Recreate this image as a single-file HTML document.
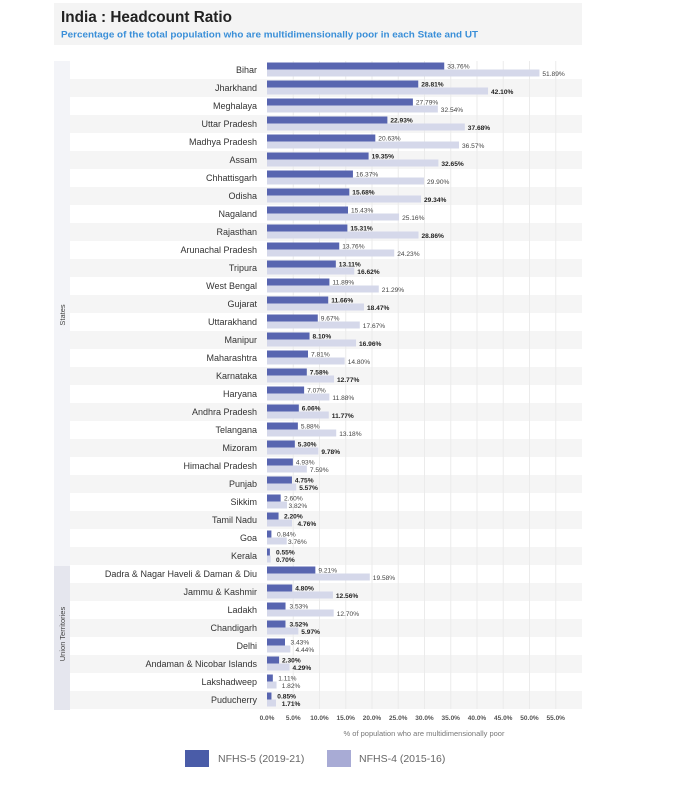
<!DOCTYPE html>
<html><head><meta charset="utf-8">
<style>
html,body{margin:0;padding:0;background:#fff;}
svg{display:block;font-family:"Liberation Sans",sans-serif;}
.rl{font-size:9px;fill:#333;text-anchor:end;}
.v{font-size:6.6px;fill:#444;}
.vb{font-size:6.6px;fill:#222;font-weight:bold;}
.tk{font-size:6.5px;fill:#555;text-anchor:middle;font-weight:bold;}
.d{fill:#5865b0;}
.l{fill:#d5d8ea;}
</style></head><body>
<svg width="673" height="797" viewBox="0 0 673 797" xmlns="http://www.w3.org/2000/svg">
<rect x="0" y="0" width="673" height="797" fill="#fff"/>
<!-- header -->
<rect x="54" y="3" width="528" height="42" fill="#f4f4f4"/>
<text x="61" y="22" font-size="15.3" font-weight="bold" fill="#222" textLength="171" lengthAdjust="spacingAndGlyphs">India : Headcount Ratio</text>
<text x="61" y="37.3" font-size="9" font-weight="bold" fill="#3a8fd8" textLength="417" lengthAdjust="spacingAndGlyphs">Percentage of the total population who are multidimensionally poor in each State and UT</text>

<!-- left strips -->
<rect x="54" y="61" width="16" height="505" fill="#f3f4f8"/>
<rect x="54" y="566" width="16" height="144" fill="#e5e6ee"/>
<text transform="translate(65,315) rotate(-90)" font-size="7.5" fill="#444" text-anchor="middle">States</text>
<text transform="translate(65,634) rotate(-90)" font-size="7.5" fill="#444" text-anchor="middle">Union Territories</text>

<!-- bands (odd rows) -->
<g fill="#f5f5f5">
<rect x="70" y="79" width="512" height="18"/>
<rect x="70" y="115" width="512" height="18"/>
<rect x="70" y="151" width="512" height="18"/>
<rect x="70" y="187" width="512" height="18"/>
<rect x="70" y="223" width="512" height="18"/>
<rect x="70" y="259" width="512" height="18"/>
<rect x="70" y="295" width="512" height="18"/>
<rect x="70" y="331" width="512" height="18"/>
<rect x="70" y="367" width="512" height="18"/>
<rect x="70" y="403" width="512" height="18"/>
<rect x="70" y="439" width="512" height="18"/>
<rect x="70" y="475" width="512" height="18"/>
<rect x="70" y="511" width="512" height="18"/>
<rect x="70" y="547" width="512" height="18"/>
<rect x="70" y="583" width="512" height="18"/>
<rect x="70" y="619" width="512" height="18"/>
<rect x="70" y="655" width="512" height="18"/>
<rect x="70" y="691" width="512" height="18"/>
</g>

<!-- gridlines -->
<g stroke="#ebebeb" stroke-width="1">
<line x1="293.25" y1="61" x2="293.25" y2="709"/>
<line x1="319.5" y1="61" x2="319.5" y2="709"/>
<line x1="345.75" y1="61" x2="345.75" y2="709"/>
<line x1="372" y1="61" x2="372" y2="709"/>
<line x1="398.25" y1="61" x2="398.25" y2="709"/>
<line x1="424.5" y1="61" x2="424.5" y2="709"/>
<line x1="450.75" y1="61" x2="450.75" y2="709"/>
<line x1="477" y1="61" x2="477" y2="709"/>
<line x1="503.25" y1="61" x2="503.25" y2="709"/>
<line x1="529.5" y1="61" x2="529.5" y2="709"/>
<line x1="555.75" y1="61" x2="555.75" y2="709"/>
</g>

<!-- rows -->
<g transform="translate(0,61)"><text class="rl" x="257" y="12">Bihar</text><rect class="d" x="267" y="1.5" width="177.24" height="7"/><rect class="l" x="267" y="8.5" width="272.42" height="7"/><text class="v" x="447.2" y="7.6">33.76%</text><text class="v" x="542.4" y="14.8">51.89%</text></g>
<g transform="translate(0,79)"><text class="rl" x="257" y="12">Jharkhand</text><rect class="d" x="267" y="1.5" width="151.25" height="7"/><rect class="l" x="267" y="8.5" width="221.03" height="7"/><text class="vb" x="421.3" y="7.6">28.81%</text><text class="vb" x="491" y="14.8">42.10%</text></g>
<g transform="translate(0,97)"><text class="rl" x="257" y="12">Meghalaya</text><rect class="d" x="267" y="1.5" width="145.9" height="7"/><rect class="l" x="267" y="8.5" width="170.84" height="7"/><text class="v" x="415.9" y="7.6">27.79%</text><text class="v" x="440.8" y="14.8">32.54%</text></g>
<g transform="translate(0,115)"><text class="rl" x="257" y="12">Uttar Pradesh</text><rect class="d" x="267" y="1.5" width="120.38" height="7"/><rect class="l" x="267" y="8.5" width="197.82" height="7"/><text class="vb" x="390.4" y="7.6">22.93%</text><text class="vb" x="467.8" y="14.8">37.68%</text></g>
<g transform="translate(0,133)"><text class="rl" x="257" y="12">Madhya Pradesh</text><rect class="d" x="267" y="1.5" width="108.31" height="7"/><rect class="l" x="267" y="8.5" width="191.99" height="7"/><text class="v" x="378.3" y="7.6">20.63%</text><text class="v" x="462" y="14.8">36.57%</text></g>
<g transform="translate(0,151)"><text class="rl" x="257" y="12">Assam</text><rect class="d" x="267" y="1.5" width="101.59" height="7"/><rect class="l" x="267" y="8.5" width="171.41" height="7"/><text class="vb" x="371.6" y="7.6">19.35%</text><text class="vb" x="441.4" y="14.8">32.65%</text></g>
<g transform="translate(0,169)"><text class="rl" x="257" y="12">Chhattisgarh</text><rect class="d" x="267" y="1.5" width="85.94" height="7"/><rect class="l" x="267" y="8.5" width="156.98" height="7"/><text class="v" x="355.9" y="7.6">16.37%</text><text class="v" x="427" y="14.8">29.90%</text></g>
<g transform="translate(0,187)"><text class="rl" x="257" y="12">Odisha</text><rect class="d" x="267" y="1.5" width="82.32" height="7"/><rect class="l" x="267" y="8.5" width="154.04" height="7"/><text class="vb" x="352.3" y="7.6">15.68%</text><text class="vb" x="424" y="14.8">29.34%</text></g>
<g transform="translate(0,205)"><text class="rl" x="257" y="12">Nagaland</text><rect class="d" x="267" y="1.5" width="81.01" height="7"/><rect class="l" x="267" y="8.5" width="132.09" height="7"/><text class="v" x="351" y="7.6">15.43%</text><text class="v" x="402.1" y="14.8">25.16%</text></g>
<g transform="translate(0,223)"><text class="rl" x="257" y="12">Rajasthan</text><rect class="d" x="267" y="1.5" width="80.38" height="7"/><rect class="l" x="267" y="8.5" width="151.52" height="7"/><text class="vb" x="350.4" y="7.6">15.31%</text><text class="vb" x="421.5" y="14.8">28.86%</text></g>
<g transform="translate(0,241)"><text class="rl" x="257" y="12">Arunachal Pradesh</text><rect class="d" x="267" y="1.5" width="72.24" height="7"/><rect class="l" x="267" y="8.5" width="127.21" height="7"/><text class="v" x="342.2" y="7.6">13.76%</text><text class="v" x="397.2" y="14.8">24.23%</text></g>
<g transform="translate(0,259)"><text class="rl" x="257" y="12">Tripura</text><rect class="d" x="267" y="1.5" width="68.83" height="7"/><rect class="l" x="267" y="8.5" width="87.26" height="7"/><text class="vb" x="338.8" y="7.6">13.11%</text><text class="vb" x="357.3" y="14.8">16.62%</text></g>
<g transform="translate(0,277)"><text class="rl" x="257" y="12">West Bengal</text><rect class="d" x="267" y="1.5" width="62.42" height="7"/><rect class="l" x="267" y="8.5" width="111.77" height="7"/><text class="v" x="332.4" y="7.6">11.89%</text><text class="v" x="381.8" y="14.8">21.29%</text></g>
<g transform="translate(0,295)"><text class="rl" x="257" y="12">Gujarat</text><rect class="d" x="267" y="1.5" width="61.22" height="7"/><rect class="l" x="267" y="8.5" width="96.97" height="7"/><text class="vb" x="331.2" y="7.6">11.66%</text><text class="vb" x="367" y="14.8">18.47%</text></g>
<g transform="translate(0,313)"><text class="rl" x="257" y="12">Uttarakhand</text><rect class="d" x="267" y="1.5" width="50.77" height="7"/><rect class="l" x="267" y="8.5" width="92.77" height="7"/><text class="v" x="320.8" y="7.6">9.67%</text><text class="v" x="362.8" y="14.8">17.67%</text></g>
<g transform="translate(0,331)"><text class="rl" x="257" y="12">Manipur</text><rect class="d" x="267" y="1.5" width="42.53" height="7"/><rect class="l" x="267" y="8.5" width="89.04" height="7"/><text class="vb" x="312.5" y="7.6">8.10%</text><text class="vb" x="359" y="14.8">16.96%</text></g>
<g transform="translate(0,349)"><text class="rl" x="257" y="12">Maharashtra</text><rect class="d" x="267" y="1.5" width="41" height="7"/><rect class="l" x="267" y="8.5" width="77.7" height="7"/><text class="v" x="311" y="7.6">7.81%</text><text class="v" x="347.7" y="14.8">14.80%</text></g>
<g transform="translate(0,367)"><text class="rl" x="257" y="12">Karnataka</text><rect class="d" x="267" y="1.5" width="39.8" height="7"/><rect class="l" x="267" y="8.5" width="67.04" height="7"/><text class="vb" x="309.8" y="7.6">7.58%</text><text class="vb" x="337" y="14.8">12.77%</text></g>
<g transform="translate(0,385)"><text class="rl" x="257" y="12">Haryana</text><rect class="d" x="267" y="1.5" width="37.12" height="7"/><rect class="l" x="267" y="8.5" width="62.37" height="7"/><text class="v" x="307.1" y="7.6">7.07%</text><text class="v" x="332.4" y="14.8">11.88%</text></g>
<g transform="translate(0,403)"><text class="rl" x="257" y="12">Andhra Pradesh</text><rect class="d" x="267" y="1.5" width="31.82" height="7"/><rect class="l" x="267" y="8.5" width="61.79" height="7"/><text class="vb" x="301.8" y="7.6">6.06%</text><text class="vb" x="331.8" y="14.8">11.77%</text></g>
<g transform="translate(0,421)"><text class="rl" x="257" y="12">Telangana</text><rect class="d" x="267" y="1.5" width="30.87" height="7"/><rect class="l" x="267" y="8.5" width="69.2" height="7"/><text class="v" x="300.9" y="7.6">5.88%</text><text class="v" x="339.2" y="14.8">13.18%</text></g>
<g transform="translate(0,439)"><text class="rl" x="257" y="12">Mizoram</text><rect class="d" x="267" y="1.5" width="27.83" height="7"/><rect class="l" x="267" y="8.5" width="51.35" height="7"/><text class="vb" x="297.8" y="7.6">5.30%</text><text class="vb" x="321.4" y="14.8">9.78%</text></g>
<g transform="translate(0,457)"><text class="rl" x="257" y="12">Himachal Pradesh</text><rect class="d" x="267" y="1.5" width="25.88" height="7"/><rect class="l" x="267" y="8.5" width="39.85" height="7"/><text class="v" x="295.9" y="7.6">4.93%</text><text class="v" x="309.9" y="14.8">7.59%</text></g>
<g transform="translate(0,475)"><text class="rl" x="257" y="12">Punjab</text><rect class="d" x="267" y="1.5" width="24.94" height="7"/><rect class="l" x="267" y="8.5" width="29.24" height="7"/><text class="vb" x="294.9" y="7.6">4.75%</text><text class="vb" x="299.2" y="14.8">5.57%</text></g>
<g transform="translate(0,493)"><text class="rl" x="257" y="12">Sikkim</text><rect class="d" x="267" y="1.5" width="13.65" height="7"/><rect class="l" x="267" y="8.5" width="20.06" height="7"/><text class="v" x="284" y="7.6">2.60%</text><text class="v" x="288.5" y="14.8">3.82%</text></g>
<g transform="translate(0,511)"><text class="rl" x="257" y="12">Tamil Nadu</text><rect class="d" x="267" y="1.5" width="11.55" height="7"/><rect class="l" x="267" y="8.5" width="24.99" height="7"/><text class="vb" x="284" y="7.6">2.20%</text><text class="vb" x="297.5" y="14.8">4.76%</text></g>
<g transform="translate(0,529)"><text class="rl" x="257" y="12">Goa</text><rect class="d" x="267" y="1.5" width="4.41" height="7"/><rect class="l" x="267" y="8.5" width="19.74" height="7"/><text class="v" x="277" y="7.6">0.84%</text><text class="v" x="288" y="14.8">3.76%</text></g>
<g transform="translate(0,547)"><text class="rl" x="257" y="12">Kerala</text><rect class="d" x="267" y="1.5" width="2.89" height="7"/><rect class="l" x="267" y="8.5" width="3.68" height="7"/><text class="vb" x="276" y="7.6">0.55%</text><text class="vb" x="276" y="14.8">0.70%</text></g>
<g transform="translate(0,565)"><text class="rl" x="257" y="12">Dadra &amp; Nagar Haveli &amp; Daman &amp; Diu</text><rect class="d" x="267" y="1.5" width="48.35" height="7"/><rect class="l" x="267" y="8.5" width="102.8" height="7"/><text class="v" x="318.4" y="7.6">9.21%</text><text class="v" x="372.8" y="14.8">19.58%</text></g>
<g transform="translate(0,583)"><text class="rl" x="257" y="12">Jammu &amp; Kashmir</text><rect class="d" x="267" y="1.5" width="25.2" height="7"/><rect class="l" x="267" y="8.5" width="65.94" height="7"/><text class="vb" x="295.2" y="7.6">4.80%</text><text class="vb" x="335.9" y="14.8">12.56%</text></g>
<g transform="translate(0,601)"><text class="rl" x="257" y="12">Ladakh</text><rect class="d" x="267" y="1.5" width="18.53" height="7"/><rect class="l" x="267" y="8.5" width="66.68" height="7"/><text class="v" x="289.5" y="7.6">3.53%</text><text class="v" x="336.7" y="14.8">12.70%</text></g>
<g transform="translate(0,619)"><text class="rl" x="257" y="12">Chandigarh</text><rect class="d" x="267" y="1.5" width="18.48" height="7"/><rect class="l" x="267" y="8.5" width="31.34" height="7"/><text class="vb" x="289.5" y="7.6">3.52%</text><text class="vb" x="301.3" y="14.8">5.97%</text></g>
<g transform="translate(0,637)"><text class="rl" x="257" y="12">Delhi</text><rect class="d" x="267" y="1.5" width="18.01" height="7"/><rect class="l" x="267" y="8.5" width="23.31" height="7"/><text class="v" x="290.5" y="7.6">3.43%</text><text class="v" x="295.5" y="14.8">4.44%</text></g>
<g transform="translate(0,655)"><text class="rl" x="257" y="12">Andaman &amp; Nicobar Islands</text><rect class="d" x="267" y="1.5" width="12.08" height="7"/><rect class="l" x="267" y="8.5" width="22.52" height="7"/><text class="vb" x="282" y="7.6">2.30%</text><text class="vb" x="292.5" y="14.8">4.29%</text></g>
<g transform="translate(0,673)"><text class="rl" x="257" y="12">Lakshadweep</text><rect class="d" x="267" y="1.5" width="5.83" height="7"/><rect class="l" x="267" y="8.5" width="9.56" height="7"/><text class="v" x="278.3" y="7.6">1.11%</text><text class="v" x="281.7" y="14.8">1.82%</text></g>
<g transform="translate(0,691)"><text class="rl" x="257" y="12">Puducherry</text><rect class="d" x="267" y="1.5" width="4.46" height="7"/><rect class="l" x="267" y="8.5" width="8.98" height="7"/><text class="vb" x="277.3" y="7.6">0.85%</text><text class="vb" x="281.7" y="14.8">1.71%</text></g>

<!-- x ticks -->
<g>
<text class="tk" x="267" y="720">0.0%</text>
<text class="tk" x="293.25" y="720">5.0%</text>
<text class="tk" x="319.5" y="720">10.0%</text>
<text class="tk" x="345.75" y="720">15.0%</text>
<text class="tk" x="372" y="720">20.0%</text>
<text class="tk" x="398.25" y="720">25.0%</text>
<text class="tk" x="424.5" y="720">30.0%</text>
<text class="tk" x="450.75" y="720">35.0%</text>
<text class="tk" x="477" y="720">40.0%</text>
<text class="tk" x="503.25" y="720">45.0%</text>
<text class="tk" x="529.5" y="720">50.0%</text>
<text class="tk" x="555.75" y="720">55.0%</text>
</g>
<text x="424" y="736" font-size="7.5" fill="#777" text-anchor="middle">% of population who are multidimensionally poor</text>

<!-- legend -->
<rect x="185" y="750" width="24" height="17" fill="#4a5ca8"/>
<text x="218" y="762" font-size="10.5" fill="#666">NFHS-5 (2019-21)</text>
<rect x="327" y="750" width="24" height="17" fill="#a8abd5"/>
<text x="359" y="762" font-size="10.5" fill="#666">NFHS-4 (2015-16)</text>
</svg>
</body></html>
